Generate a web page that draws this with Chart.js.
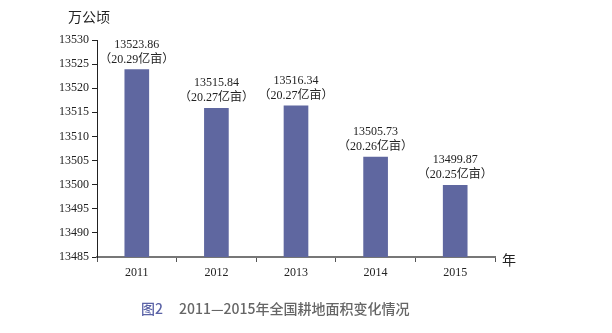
<!DOCTYPE html>
<html>
<head>
<meta charset="utf-8">
<script src="https://cdn.jsdelivr.net/npm/chart.js@4"></script>
<style>
  html, body { margin: 0; padding: 0; background: #fff; }
  #wrap { position: relative; width: 612px; height: 333px; }
  #chart { position: absolute; left: 0; top: 0; }
  .unit { position: absolute; left: 68px; top: 6px; font: 14px "Noto Sans CJK SC", sans-serif; color: #222; }
  .year { position: absolute; left: 502px; top: 249px; font: 14px "Noto Sans CJK SC", sans-serif; color: #222; }
  .caption { position: absolute; left: 141px; top: 298px; white-space: nowrap;
             font: 500 14px "Noto Sans CJK SC", sans-serif; color: #666; }
  .caption .fig { color: #5b63a6; margin-right: 16px; }
</style>
</head>
<body>
<div id="wrap">
  <canvas id="chart" width="612" height="333"></canvas>
  <div class="unit">万公顷</div>
  <div class="year">年</div>
  <div class="caption"><span class="fig">图2</span>2011—2015年全国耕地面积变化情况</div>
</div>
<script>
// Cultivated land area by year (10k hectares) and the same in 100M mu
const years = ['2011', '2012', '2013', '2014', '2015'];
const areaHectares = [13523.86, 13515.84, 13516.34, 13505.73, 13499.87];
const areaMu = ['20.29', '20.27', '20.27', '20.26', '20.25'];
const yTicks = [13485, 13490, 13495, 13500, 13505, 13510, 13515, 13520, 13525, 13530];

const serif = '"Liberation Serif", "Times New Roman", "Noto Sans CJK SC", serif';

// Two-line value labels above each bar
const valueLabels = {
  id: 'valueLabels',
  afterDatasetsDraw(chart) {
    const ctx = chart.ctx;
    const meta = chart.getDatasetMeta(0);
    ctx.save();
    ctx.fillStyle = '#222';
    ctx.textAlign = 'center';
    ctx.textBaseline = 'alphabetic';
    ctx.font = '12px ' + serif;
    meta.data.forEach((bar, i) => {
      ctx.fillText(areaHectares[i].toFixed(2), bar.x, bar.y - 22);
      ctx.fillText('（' + areaMu[i] + '亿亩）', bar.x, bar.y - 7);
    });
    ctx.restore();
  }
};

new Chart(document.getElementById('chart'), {
  type: 'bar',
  data: {
    labels: years,
    datasets: [{
      data: areaHectares,
      backgroundColor: '#5f67a0',
      borderWidth: 0,
      barThickness: 24
    }]
  },
  options: {
    responsive: false,
    animation: false,
    layout: { padding: { top: 40, right: 117, bottom: 0, left: 0 } },
    plugins: { legend: { display: false }, tooltip: { enabled: false } },
    scales: {
      x: {
        afterFit(scale) { scale.height = 76; },
        grid: { offset: true, drawOnChartArea: false, drawTicks: true, tickLength: 5, color: '#555' },
        border: { color: '#777', width: 2 },
        ticks: { color: '#222', font: { family: serif, size: 12 }, padding: 4 }
      },
      y: {
        min: 13485,
        max: 13530,
        afterFit(scale) { scale.width = 97; },
        afterBuildTicks(scale) { scale.ticks = yTicks.map(v => ({ value: v })); },
        grid: { drawOnChartArea: false, drawTicks: true, tickLength: 5, color: '#222' },
        border: { color: '#222', width: 1 },
        ticks: {
          color: '#222', font: { family: serif, size: 12 }, padding: 3,
          callback: v => String(v)
        }
      }
    }
  },
  plugins: [valueLabels]
});
</script>
</body>
</html>
